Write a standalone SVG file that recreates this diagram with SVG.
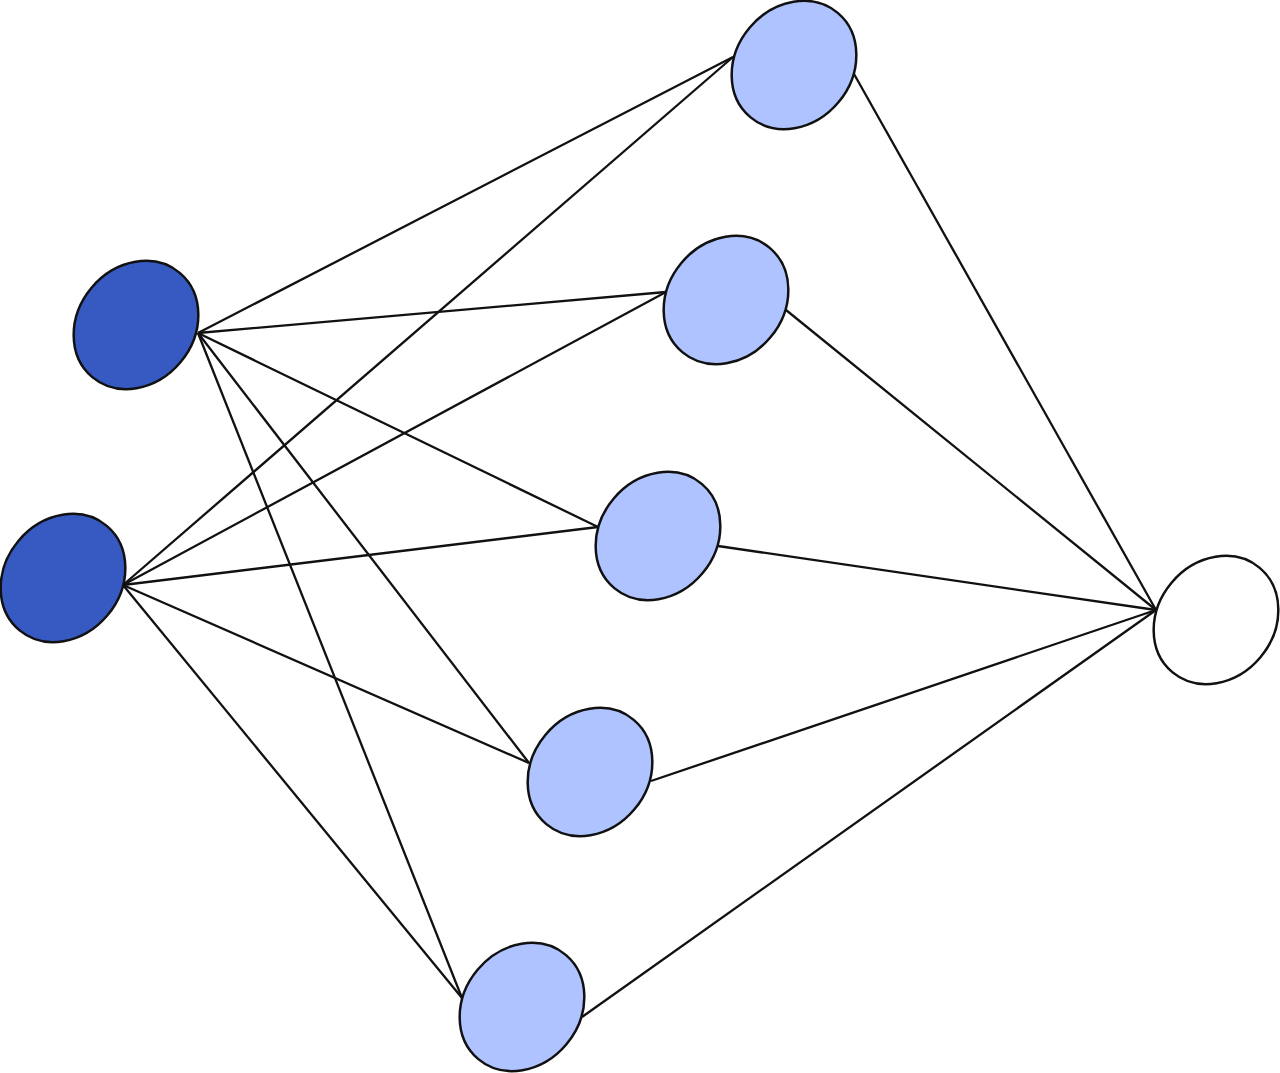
<svg xmlns="http://www.w3.org/2000/svg" width="1280" height="1073" viewBox="0 0 1280 1073">
<style>
.e{stroke:#111;stroke-width:2.5}
.in{fill:#3759C2}
.hid{fill:#AEC3FF}
.out{fill:#FFFFFF}
.c line{stroke:#111;stroke-width:2.3}
</style>
<rect width="1280" height="1073" fill="#fff"/>
<g class="c" id="connectors">
<line x1="198" y1="333" x2="733" y2="57"/>
<line x1="198" y1="333" x2="666" y2="292"/>
<line x1="198" y1="333" x2="598" y2="527"/>
<line x1="198" y1="333" x2="529" y2="763"/>
<line x1="198" y1="333" x2="462" y2="998"/>
<line x1="123" y1="585" x2="733" y2="57"/>
<line x1="123" y1="585" x2="666" y2="292"/>
<line x1="123" y1="585" x2="598" y2="527"/>
<line x1="123" y1="585" x2="529" y2="763"/>
<line x1="123" y1="585" x2="462" y2="998"/>
<line x1="854" y1="74" x2="1156" y2="610"/>
<line x1="786" y1="310" x2="1156" y2="610"/>
<line x1="718" y1="546" x2="1156" y2="610"/>
<line x1="651" y1="781" x2="1156" y2="610"/>
<line x1="582" y1="1017" x2="1156" y2="610"/>
</g>
<g id="in1"><ellipse class="e in" cx="136" cy="325" rx="68" ry="58" transform="rotate(-50 136 325)"/></g>
<g id="in2"><ellipse class="e in" cx="63" cy="578" rx="68" ry="58" transform="rotate(-50 63 578)"/></g>
<g id="h1"><ellipse class="e hid" cx="794" cy="65" rx="68" ry="58" transform="rotate(-50 794 65)"/></g>
<g id="h2"><ellipse class="e hid" cx="726" cy="300" rx="68" ry="58" transform="rotate(-50 726 300)"/></g>
<g id="h3"><ellipse class="e hid" cx="658" cy="536" rx="68" ry="58" transform="rotate(-50 658 536)"/></g>
<g id="h4"><ellipse class="e hid" cx="590" cy="772" rx="68" ry="58" transform="rotate(-50 590 772)"/></g>
<g id="h5"><ellipse class="e hid" cx="522" cy="1007" rx="68" ry="58" transform="rotate(-50 522 1007)"/></g>
<g id="out"><ellipse class="e out" cx="1216" cy="620" rx="68" ry="58" transform="rotate(-50 1216 620)"/></g>
</svg>
